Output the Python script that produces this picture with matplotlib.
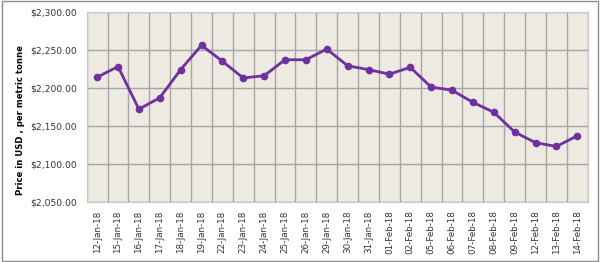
import matplotlib.pyplot as plt
from matplotlib.patches import Rectangle
from matplotlib.ticker import FuncFormatter, MultipleLocator

dates = ["12-Jan-18", "15-Jan-18", "16-Jan-18", "17-Jan-18", "18-Jan-18",
         "19-Jan-18", "22-Jan-18", "23-Jan-18", "24-Jan-18", "25-Jan-18",
         "26-Jan-18", "29-Jan-18", "30-Jan-18", "31-Jan-18", "01-Feb-18",
         "02-Feb-18", "05-Feb-18", "06-Feb-18", "07-Feb-18", "08-Feb-18",
         "09-Feb-18", "12-Feb-18", "13-Feb-18", "14-Feb-18"]
prices = [2214, 2228, 2172, 2187, 2224, 2256, 2235, 2213, 2216, 2237,
          2237, 2251, 2229, 2224, 2218, 2227, 2201, 2197, 2181, 2168,
          2142, 2128, 2123, 2137]

fig = plt.figure(figsize=(6.0, 2.62), dpi=100)
ax = fig.add_axes([0.1445, 0.229, 0.835, 0.726])

x = list(range(len(dates)))
ax.set_facecolor("#ECEAE1")
ax.plot(x, prices, color="#7030A0", lw=2, marker="o", ms=4.5, zorder=3)

ax.set_xlim(-0.5, len(dates) - 0.5)
ax.set_ylim(2050, 2300)
ax.yaxis.set_major_locator(MultipleLocator(50))
ax.yaxis.set_major_formatter(FuncFormatter(lambda v, p: f"${v:,.2f}"))

ax.set_xticks(x)
ax.set_xticklabels(dates, rotation=90, fontsize=6.3, color="#333333")
ax.set_xticks([i - 0.5 for i in range(len(dates) + 1)], minor=True)
ax.tick_params(axis="x", which="both", length=0, pad=6)
ax.tick_params(axis="y", length=0, labelsize=6.6, labelcolor="#333333", pad=7)

ax.grid(axis="x", which="minor", color="#A5A5A5", lw=1)
ax.grid(axis="y", which="major", color="#A5A5A5", lw=1)
ax.set_axisbelow(True)
for s in ax.spines.values():
    s.set_color("#C8C8C8")

fig.text(0.034, 0.54, "Price in USD , per metric tonne", rotation=90,
         ha="center", va="center", fontsize=6.1, fontweight="bold")

fig.patches.append(Rectangle((0.004, 0.004), 0.992, 0.992, transform=fig.transFigure,
                             fill=False, edgecolor="#8C8C8C", lw=1))

fig.savefig("out.png", dpi=100)
